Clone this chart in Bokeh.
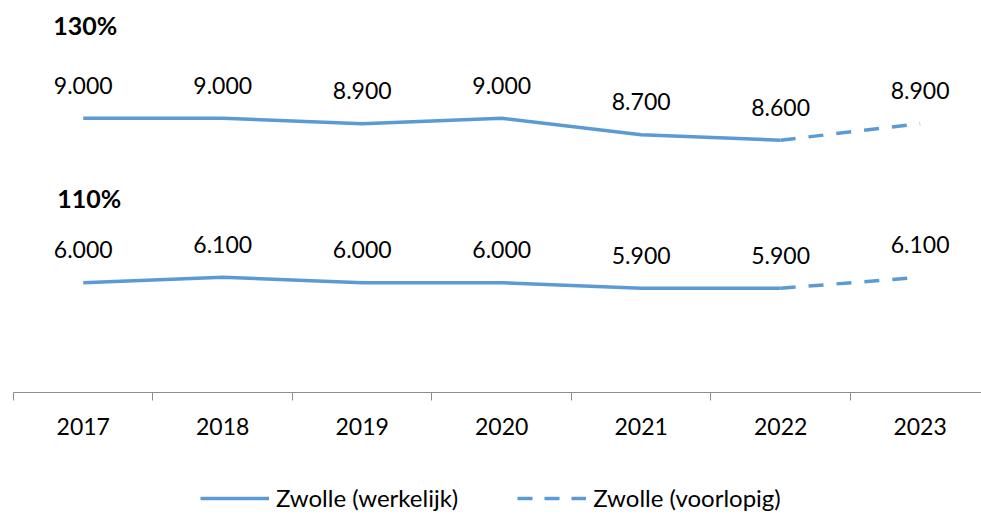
from bokeh.plotting import figure
from bokeh.layouts import column
from bokeh.models import (Range1d, FixedTicker, Legend, LegendItem, ColumnDataSource)
from bokeh.core.properties import value
from bokeh.embed import file_html
from bokeh.resources import INLINE

years = ["2017", "2018", "2019", "2020", "2021", "2022", "2023"]
series_130 = [9000, 9000, 8900, 9000, 8700, 8600, 8900]
series_110 = [6000, 6100, 6000, 6000, 5900, 5900, 6100]
group_labels = ["130%", "110%"]
legend_labels = ["Zwolle (werkelijk)", "Zwolle (voorlopig)"]
n_actual = 6  # 2017-2022 werkelijk, 2022-2023 voorlopig

BLUE = "#5B9BD5"
GRAY = "#8C8C8C"
FONT = "Lato"
DASH = "15 13"
LW = 3.5

xs = list(range(len(years)))

p = figure(width=981, height=460,
           output_backend="svg",
           toolbar_location=None, x_range=Range1d(-0.5, 6.44),
           y_range=Range1d(4000, 11000), min_border_left=13,
           min_border_right=0, min_border_top=8, min_border_bottom=68)
p.outline_line_color = None
p.xgrid.visible = False
p.ygrid.visible = False
p.yaxis.visible = False
p.background_fill_color = "white"
p.border_fill_color = "white"

ax = p.xaxis[0]
ax.ticker = FixedTicker(ticks=xs, minor_ticks=[x - 0.5 for x in xs] + [xs[-1] + 0.5])
ax.major_label_overrides = {x: y for x, y in zip(xs, years)}
ax.major_tick_line_color = None
ax.major_tick_out = 0
ax.major_tick_in = 0
ax.minor_tick_out = 8
ax.minor_tick_in = 0
ax.minor_tick_line_color = GRAY
ax.axis_line_color = GRAY
ax.axis_line_width = 1
ax.major_label_standoff = 17
ax.major_label_text_font = FONT
ax.major_label_text_font_size = "23px"
ax.major_label_text_color = "black"

for series in (series_130, series_110):
    p.line(xs[:n_actual], series[:n_actual], line_color=BLUE, line_width=LW)
    p.line(xs[n_actual - 1:], series[n_actual - 1:], line_color=BLUE,
           line_width=LW, line_dash=DASH)
    src = ColumnDataSource(dict(x=xs, y=series,
                                t=[f"{v:,}".replace(",", ".") for v in series]))
    p.text("x", "y", text="t", source=src, text_font=value(FONT),
           text_font_size="23px", text_align="center", text_baseline="middle",
           y_offset=-33, text_color="black")

for lab, series, xo, yo in zip(group_labels, (series_130, series_110), (-30, -26), (-93, -85)):
    p.text([xs[0]], [series[0]], text=[lab], text_font=value(FONT),
           text_font_size="25px", text_font_style="bold", text_align="left",
           text_baseline="middle", x_offset=xo, y_offset=yo, text_color="black")

# legend strip below the chart (its sample lines lie outside the visible range)
q = figure(width=981, height=56, output_backend="svg", toolbar_location=None,
           x_range=Range1d(0, 1), y_range=Range1d(0, 1),
           min_border_left=0, min_border_right=0, min_border_top=0,
           min_border_bottom=0)
q.outline_line_color = None
q.axis.visible = False
q.grid.visible = False
q.border_fill_color = "white"
ls = q.line([5, 6], [5, 6], line_color=BLUE, line_width=LW)
ld = q.line([5, 6], [5, 6], line_color=BLUE, line_width=LW, line_dash="15 12")
legend = Legend(items=[LegendItem(label=legend_labels[0], renderers=[ls]),
                       LegendItem(label=legend_labels[1], renderers=[ld])],
                orientation="horizontal", location=(187, 4),
                label_text_font=FONT, label_text_font_size="24px",
                glyph_width=69, glyph_height=20, label_standoff=7, spacing=59,
                border_line_color=None, background_fill_alpha=0,
                padding=0, margin=0)
legend.label_text_color = "black"
q.add_layout(legend)

open("out.html", "w").write(file_html(column(p, q, spacing=0), INLINE))
